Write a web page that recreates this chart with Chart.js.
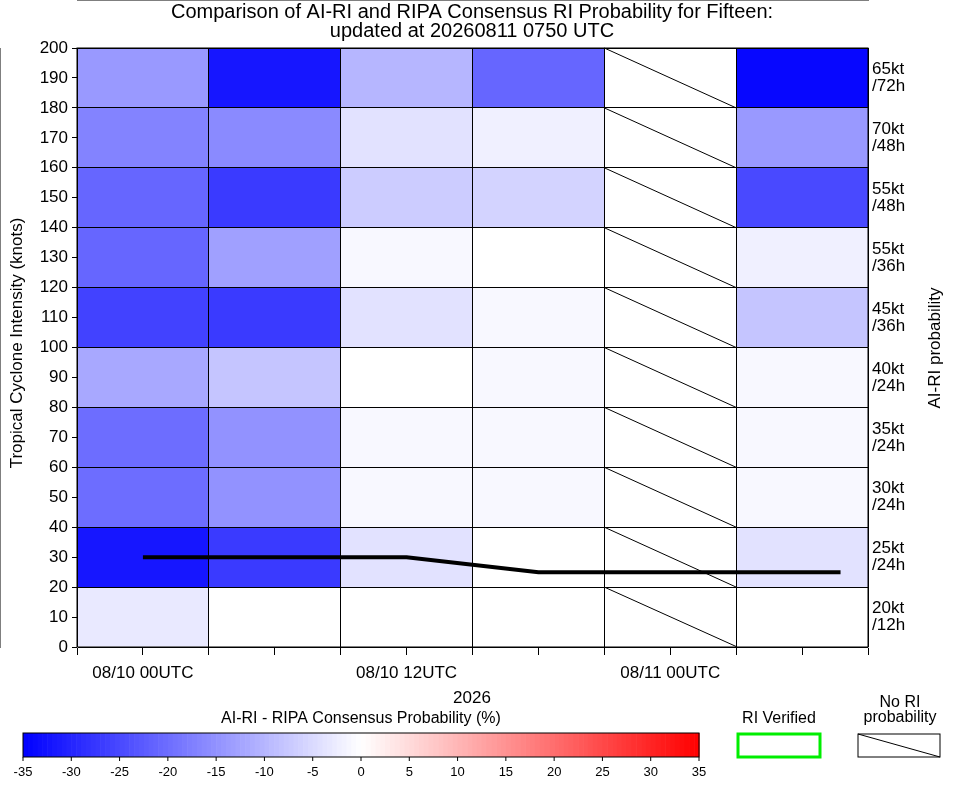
<!DOCTYPE html>
<html>
<head>
<meta charset="utf-8">
<script src="https://cdn.jsdelivr.net/npm/chart.js@4"></script>
<style>
  html, body { margin: 0; padding: 0; background: #fff; }
  #wrap { width: 963px; height: 785px; }
</style>
</head>
<body>
<div id="wrap"><canvas id="ri"></canvas></div>
<script>
// forecast hours (column centers) relative to 08/10 00UTC
let hours = [0, 6, 12, 18, 24, 30]
// intensity bins (lower edge, knots)
let rowLow = [0, 20, 40, 60, 80, 100, 120, 140, 160, 180]
// right hand labels for each bin
let rowLabels = [['20kt', '/12h'], ['25kt', '/24h'], ['30kt', '/24h'], ['35kt', '/24h'], ['40kt', '/24h'],
  ['45kt', '/36h'], ['55kt', '/36h'], ['55kt', '/48h'], ['70kt', '/48h'], ['65kt', '/72h']]
// AI-RI minus RIPA consensus probability (%), bottom row first; null = no RI probability
let diff00 = [-3, -32, -20, -20, -12, -26, -21, -21, -17, -14]
let diff06 = [0, -27, -15, -15, -8, -27, -13, -27, -16, -32]
let diff12 = [0, -4, -1, -1, 0, -4, -1, -7, -4, -10]
let diff18 = [0, 0, -1, -1, -1, -1, 0, -6, -2, -21]
let diff24 = [null, null, null, null, null, null, null, null, null, null]
let diff30 = [0, -4, -1, -1, -1, -8, -2, -25, -14, -34]
let diffs = [diff00, diff06, diff12, diff18, diff24, diff30]
// current intensity track
let trackHours = [0, 12, 18, 31.75]
let trackKt = [30, 30, 25, 25]
let barTicks = [-35, -30, -25, -20, -15, -10, -5, 0, 5, 10, 15, 20, 25, 30, 35]

const FONT = 'Liberation Sans, Arial, sans-serif'

function probColor(v) {
  if (v === null) return '#ffffff'
  let t = Math.min(Math.abs(v) / 35, 1)
  let c = Math.round(255 * (1 - t))
  return v < 0 ? `rgb(${c},${c},255)` : `rgb(255,${c},${c})`
}

let datasets = hours.map((h, ci) => ({
  type: 'bar',
  grouped: false,
  order: 2,
  data: rowLow.map(lo => ({ x: h, y: [lo, lo + 20] })),
  backgroundColor: diffs[ci].map(probColor),
  borderWidth: 0,
  barPercentage: 1,
  categoryPercentage: 2, // ticks are every 3h, cells span 6h
  noRI: diffs[ci].every(v => v === null)
}))
datasets.push({
  type: 'line',
  order: -1,
  data: trackHours.map((h, i) => ({ x: h, y: trackKt[i] })),
  borderColor: '#000',
  borderWidth: 4,
  pointRadius: 0
})

function diag(ctx, x1, y1, x2, y2) {
  ctx.beginPath(); ctx.moveTo(x1, y1); ctx.lineTo(x2, y2); ctx.stroke()
}

const extras = {
  id: 'extras',
  afterDatasetsDraw(chart) {
    let ctx = chart.ctx
    ctx.save()
    ctx.strokeStyle = '#000'; ctx.lineWidth = 1
    chart.data.datasets.forEach((ds, i) => {
      if (!ds.noRI) return
      chart.getDatasetMeta(i).data.forEach(el => {
        let p = el.getProps(['x', 'y', 'base', 'width'], true)
        diag(ctx, p.x - p.width / 2, p.y, p.x + p.width / 2, p.base)
      })
    })
    ctx.restore()
  },
  afterDraw(chart) {
    let ctx = chart.ctx
    let a = chart.chartArea
    ctx.save()
    ctx.strokeStyle = '#000'; ctx.lineWidth = 1
    ctx.strokeRect(a.left, a.top, a.right - a.left, a.bottom - a.top)
    ctx.fillStyle = '#000'
    ctx.textAlign = 'center'; ctx.textBaseline = 'middle'
    ctx.font = '20px ' + FONT
    ctx.fillText('Comparison of AI-RI and RIPA Consensus RI Probability for Fifteen:', 472, 12)
    ctx.fillText('updated at 20260811 0750 UTC', 472, 31)
    ctx.font = '17px ' + FONT
    ctx.fillText('2026', 472, 698)
    ctx.save(); ctx.translate(17, 343); ctx.rotate(-Math.PI / 2)
    ctx.fillText('Tropical Cyclone Intensity (knots)', 0, 0); ctx.restore()
    ctx.save(); ctx.translate(935, 348); ctx.rotate(-Math.PI / 2)
    ctx.fillText('AI-RI probability', 0, 0); ctx.restore()

    // colour bar
    let x0 = 23, x1 = 699, y0 = 733, y1 = 757
    let n = 140
    for (let i = 0; i < n; i++) {
      let v = -35 + 70 * (i + 0.5) / n
      ctx.fillStyle = probColor(v)
      ctx.fillRect(x0 + (x1 - x0) * i / n, y0, (x1 - x0) / n + 0.6, y1 - y0)
    }
    ctx.strokeRect(x0, y0, x1 - x0, y1 - y0)
    ctx.fillStyle = '#000'
    ctx.font = '13px ' + FONT
    barTicks.forEach(t => {
      let x = x0 + (x1 - x0) * (t + 35) / 70
      diag(ctx, x, y1, x, y1 + 4)
      ctx.fillText(String(t), x, 772)
    })
    ctx.font = '16px ' + FONT
    ctx.fillText('AI-RI - RIPA Consensus Probability (%)', 361, 719)
    ctx.fillText('RI Verified', 779, 719)
    ctx.fillText('No RI', 900, 703)
    ctx.fillText('probability', 900, 718)
    ctx.strokeStyle = '#00ee00'; ctx.lineWidth = 3
    ctx.strokeRect(738, 734, 82, 23)
    ctx.strokeStyle = '#000'; ctx.lineWidth = 1
    ctx.strokeRect(858, 734, 82, 23)
    diag(ctx, 858, 734, 940, 757)
    ctx.restore()
  }
}

new Chart(document.getElementById('ri'), {
  type: 'bar',
  data: { datasets: datasets },
  plugins: [extras],
  options: {
    responsive: true,
    maintainAspectRatio: false,
    animation: false,
    layout: { padding: { top: 48 } },
    plugins: { legend: { display: false }, tooltip: { enabled: false } },
    scales: {
      x: {
        type: 'linear', min: -3, max: 33, offset: false,
        afterBuildTicks: s => { s.ticks = []; for (let h = -3; h <= 33; h += 3) s.ticks.push({ value: h }) },
        afterFit: s => { s.height = 785 - 647 },
        ticks: {
          autoSkip: false, maxRotation: 0, color: '#000', font: { family: FONT, size: 17 }, padding: 8,
          callback: v => ({ 0: '08/10 00UTC', 12: '08/10 12UTC', 24: '08/11 00UTC' })[v] || ''
        },
        grid: {
          offset: false, z: 1, tickLength: 8, tickColor: '#000',
          color: c => (((c.tick && c.tick.value) + 3) % 6 === 0 ? '#000' : 'rgba(0,0,0,0)')
        },
        border: { color: '#000' }
      },
      y: {
        min: 0, max: 200, position: 'left',
        afterFit: s => { s.width = 77 },
        ticks: { stepSize: 10, color: '#000', font: { family: FONT, size: 17 }, padding: 4 },
        grid: {
          z: 1, tickLength: 5, tickColor: '#000',
          color: c => ((c.tick && c.tick.value) % 20 === 0 ? '#000' : 'rgba(0,0,0,0)')
        },
        border: { color: '#000' }
      },
      yr: {
        min: 0, max: 200, position: 'right',
        afterBuildTicks: s => { s.ticks = rowLow.map(lo => ({ value: lo + 10 })) },
        afterFit: s => { s.width = 963 - 868 },
        ticks: {
          color: '#000', font: { family: FONT, size: 17, lineHeight: 1.0 }, padding: 4,
          callback: (v, i) => rowLabels[i]
        },
        grid: { display: false, drawTicks: false },
        border: { display: false }
      }
    }
  }
})
</script>
</body>
</html>
